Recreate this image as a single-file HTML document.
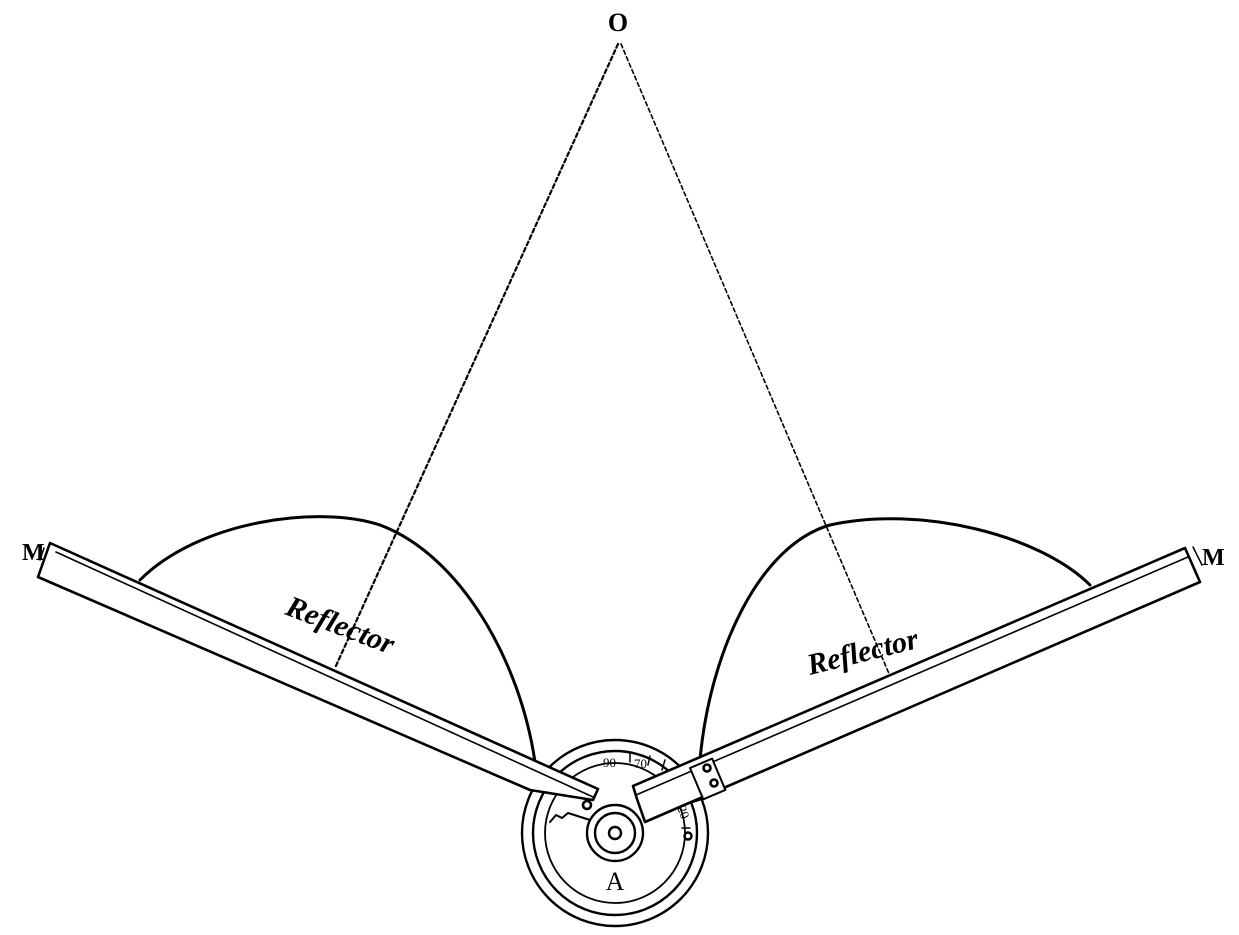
<!DOCTYPE html>
<html><head><meta charset="utf-8"><style>
html,body{margin:0;padding:0;background:#fff}
svg{display:block}
</style></head><body>
<svg width="1239" height="935" viewBox="0 0 1239 935" fill="none" stroke="#000" stroke-linecap="round" stroke-linejoin="round">
<rect width="1239" height="935" fill="#fff" stroke="none"/>
<text x="618" y="31" font-family="Liberation Serif, serif" font-weight="bold" font-size="26" text-anchor="middle" fill="#000" stroke="none">O</text>
<g stroke-dasharray="4 3" stroke-width="2.2">
<line x1="618" y1="44" x2="335" y2="668"/>
<line x1="621" y1="44" x2="890" y2="676" stroke-width="1.6"/>
</g>
<path d="M140,580 C200,520 320,505 380,525 C460,555 520,660 535,762" stroke-width="3"/>
<path d="M700,760 C710,650 760,545 830,525 C920,505 1040,535 1090,585" stroke-width="3"/>
<g stroke-width="2.4">
<circle cx="615" cy="833" r="93" fill="#fff"/>
<circle cx="615" cy="833" r="82"/>
<circle cx="615" cy="833" r="70" stroke-width="1.8"/>
<path d="M550,822 L556,815 L562,818 L568,813 L590,820" stroke-width="2"/>
<circle cx="615" cy="833" r="28"/>
<circle cx="615" cy="833" r="20"/>
<circle cx="615" cy="833" r="6"/>
<circle cx="543" cy="784" r="4"/>
<circle cx="688" cy="836" r="3.5"/>
<path d="M630,752 L630,762 M650,756 L648,765 M665,760 L662,770 M690,828 L682,828 M700,800 L690,803" stroke-width="1.5"/>
<text x="603" y="767" font-family="Liberation Serif, serif" font-size="13" fill="#000" stroke="none">90</text>
<text x="634" y="768" font-family="Liberation Serif, serif" font-size="13" fill="#000" stroke="none">70</text>
<text x="678" y="818" font-family="Liberation Serif, serif" font-size="13" fill="#000" stroke="none" transform="rotate(70 685 812)">20</text>
<text x="615" y="890" font-family="Liberation Serif, serif" font-size="26" fill="#000" stroke="none" text-anchor="middle">A</text>
</g>
<g stroke-width="2.6">
<path d="M50,543 L598,789 L593,800 L530,790 L38,577 Z" fill="#fff"/>
<path d="M56,552 L593,797" stroke-width="1.6"/>
<path d="M44,548 L40,560" stroke-width="1.5"/>
<circle cx="587" cy="805" r="4" fill="#fff"/>
</g>
<g stroke-width="2.6">
<path d="M1185,548 L633,786 L637,799 L645,822 L1200,582 Z" fill="#fff"/>
<path d="M1188,557 L636,795" stroke-width="1.6"/>
<path d="M1193,547 L1202,565" stroke-width="1.5"/>
<rect x="0" y="0" width="24" height="34" transform="translate(690,768) rotate(-23)" stroke-width="2" fill="#fff"/>
<circle cx="707" cy="768" r="3.5"/>
<circle cx="714" cy="783" r="3.5"/>
</g>
<text x="22" y="560" font-family="Liberation Serif, serif" font-weight="bold" font-size="24" fill="#000" stroke="none">M</text>
<text x="1202" y="565" font-family="Liberation Serif, serif" font-weight="bold" font-size="24" fill="#000" stroke="none">M</text>
<text transform="translate(284,614) rotate(21)" font-family="Liberation Serif, serif" font-style="italic" font-weight="bold" font-size="30" fill="#000" stroke="none">Reflector</text>
<text transform="translate(810,675) rotate(-14)" font-family="Liberation Serif, serif" font-style="italic" font-weight="bold" font-size="30" fill="#000" stroke="none">Reflector</text>
</svg>
</body></html>
